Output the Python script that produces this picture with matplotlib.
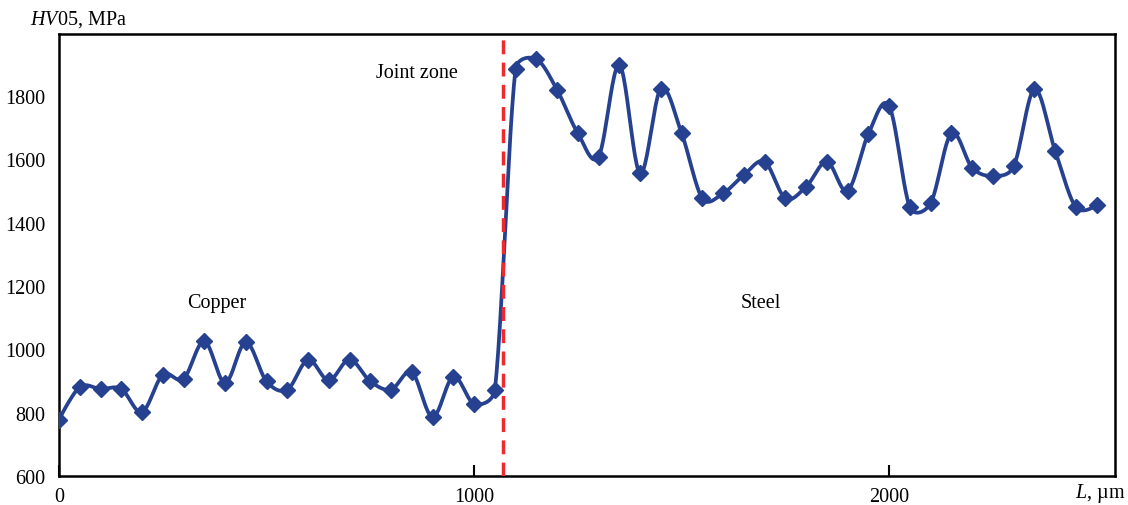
import numpy as np
import matplotlib.pyplot as plt

plt.rcParams['font.family'] = ['Liberation Serif', 'DejaVu Serif']
plt.rcParams['mathtext.fontset'] = 'custom'
plt.rcParams['mathtext.it'] = 'Liberation Serif:italic'
plt.rcParams['mathtext.rm'] = 'Liberation Serif'

# distance from start, um
L = np.arange(0, 2550, 50)
# HV05 hardness, MPa
hv = [778, 881, 875, 875, 802, 920, 907, 1026, 894, 1023, 899, 873, 967, 902,
      968, 899, 873, 928, 786, 914, 828, 873,
      1885, 1917, 1820, 1683, 1609, 1899, 1556, 1824, 1683, 1477, 1493, 1551,
      1593, 1477, 1514, 1593, 1501, 1681, 1769, 1449, 1462, 1683, 1574, 1548,
      1578, 1822, 1627, 1449, 1456]
joint_x = 1070


def smooth(x, y, n=24, kx=0.416, ky=0.3167, lim=0.5):
    # bezier smoothing (like a spreadsheet "smoothed line"),
    # control handles clipped to a share of the segment length in pixels
    x = np.asarray(x, float)
    y = np.asarray(y, float)
    N = len(x)
    tx = np.zeros(N)
    ty = np.zeros(N)
    for i in range(1, N - 1):
        tx[i] = (x[i + 1] - x[i - 1]) / 6
        ty[i] = (y[i + 1] - y[i - 1]) / 6
    xs, ys = [], []
    t = np.linspace(0, 1, n, endpoint=False)
    for i in range(N - 1):
        seg = np.hypot((x[i + 1] - x[i]) * kx, (y[i + 1] - y[i]) * ky)
        h1 = np.hypot(tx[i] * kx, ty[i] * ky)
        h2 = np.hypot(tx[i + 1] * kx, ty[i + 1] * ky)
        f1 = min(1, lim * seg / h1) if h1 > 0 else 1
        f2 = min(1, lim * seg / h2) if h2 > 0 else 1
        b1x, b1y = x[i] + tx[i] * f1, y[i] + ty[i] * f1
        b2x, b2y = x[i + 1] - tx[i + 1] * f2, y[i + 1] - ty[i + 1] * f2
        xs.append((1 - t)**3 * x[i] + 3 * (1 - t)**2 * t * b1x + 3 * (1 - t) * t**2 * b2x + t**3 * x[i + 1])
        ys.append((1 - t)**3 * y[i] + 3 * (1 - t)**2 * t * b1y + 3 * (1 - t) * t**2 * b2y + t**3 * y[i + 1])
    xs.append([x[-1]])
    ys.append([y[-1]])
    return np.concatenate(xs), np.concatenate(ys)


fig = plt.figure(figsize=(11.28, 5.06), dpi=100)
ax = fig.add_axes([0.0523, 0.0573, 0.9365, 0.8745])

blue = '#26418f'
sx, sy = smooth(L, hv)
ax.plot(sx, sy, color=blue, lw=2.7, zorder=3, solid_capstyle='round')
ax.plot(L, hv, 'D', color=blue, ms=7.8, zorder=4)
ax.axvline(joint_x, color='#ee2a2e', lw=2.5, ls=(0, (4, 2.4)), zorder=5)

ax.set_xlim(0, 2545)
ax.set_ylim(600, 1998)
ax.set_yticks([600, 800, 1000, 1200, 1400, 1600, 1800])
ax.set_xticks([0, 1000, 2000])
ax.tick_params(axis='y', length=0, pad=10, labelsize=14.5)
ax.tick_params(axis='x', direction='in', length=8, width=1.5, pad=8, labelsize=14.5)
ax.get_xticklines()[2].set_color(blue)
for s in ax.spines.values():
    s.set_linewidth(1.8)

ax.text(379, 1149, 'Copper', ha='center', va='center', fontsize=14.5)
ax.text(862, 1876, 'Joint zone', ha='center', va='center', fontsize=14.5)
ax.text(1690, 1149, 'Steel', ha='center', va='center', fontsize=14.5)

fig.text(30 / 1128, 1 - 20 / 506, r'$HV$05, MPa', ha='left', va='center', fontsize=14.5)
fig.text(1125 / 1128, 1 - 494 / 506, r'$L$, µm', ha='right', va='center', fontsize=14.5)

fig.savefig('out.png', dpi=100)
